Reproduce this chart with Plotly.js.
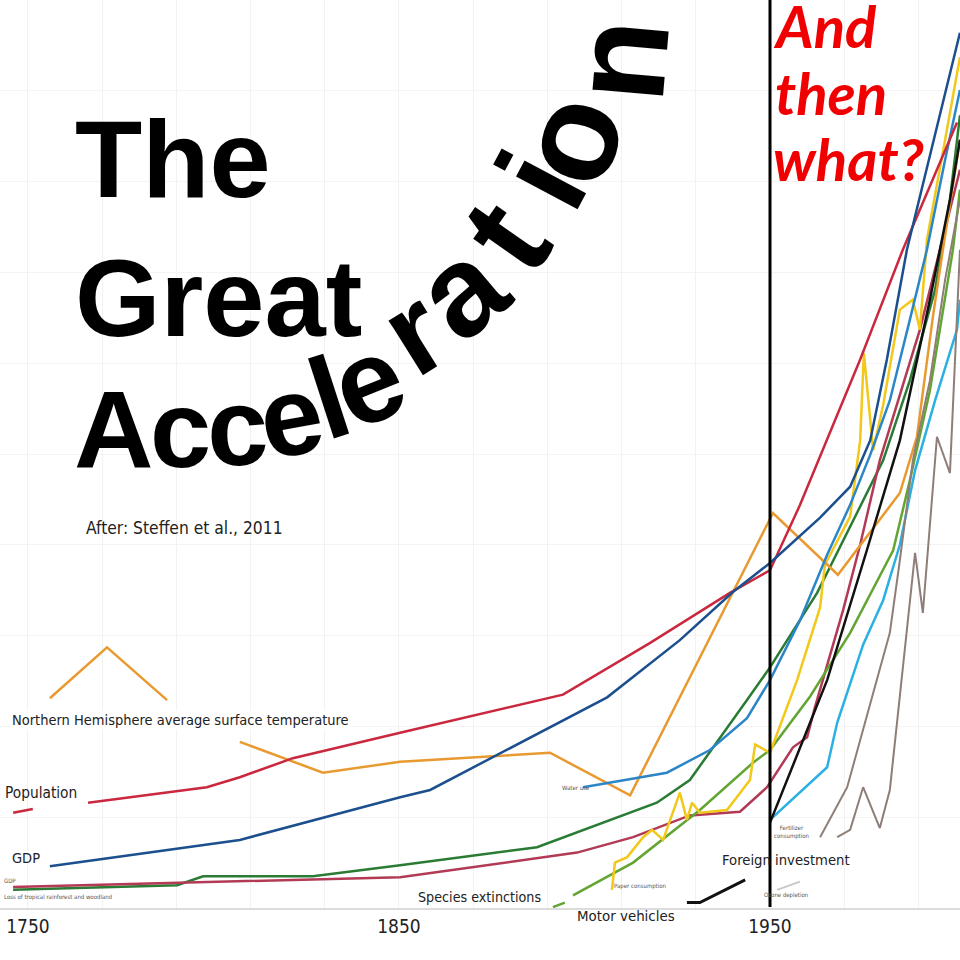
<!DOCTYPE html>
<html>
<head>
<meta charset="utf-8">
<script src="https://cdn.plot.ly/plotly-3.0.1.min.js"></script>
<style>html,body{margin:0;padding:0;background:#fff;}#chart{width:960px;height:960px;}</style>
</head>
<body>
<div id="chart"></div>
<script>
// ---------------- data (years on x, relative index on y) ----------------
const tickYears = [1750, 1850, 1950];
const tickLabels = ["1750", "1850", "1950"];

const populationYears = [1746.0, 1751.3, null, 1766.2, 1798.2, 1807.1, 1821.4, 1850.3, 1894.2, 1917.7, 1939.2, 1950.0, 1958.1, 1974.3, 1985.8, 2000.4];
const populationValues = [10.5, 10.9, null, 11.6, 13.3, 14.4, 16.5, 19.3, 23.5, 29.2, 34.7, 37.2, 44.4, 60.4, 72.5, 86.5];

const gdpYears = [1755.9, 1807.1, 1850.3, 1858.4, 1906.1, 1925.7, 1940.0, 1950.0, 1963.5, 1971.6, 1977.0, 1981.5, 1986.9, 2001.2];
const gdpValues = [4.6, 7.5, 12.2, 13.0, 23.2, 29.5, 34.8, 38.0, 43.0, 46.4, 51.5, 60.4, 72.5, 96.4];

const temperatureYears = [1755.9, 1771.3, 1787.5, null, 1807.1, 1829.5, 1850.3, 1890.7, 1912.3, 1950.8, 1968.3, 1985.0, 1989.6, 1993.9, 1996.6, 2001.2];
const temperatureValues = [23.1, 28.7, 22.9, null, 18.3, 14.9, 16.1, 17.1, 12.4, 43.5, 36.7, 45.7, 51.9, 65.1, 72.5, 84.6];

const waterUseYears = [1899.6, 1922.2, 1933.8, 1943.8, 1950.0, 1958.1, 1965.4, 1971.6, 1977.0, 1982.3, 1987.7, 1992.3, 1997.2, 2001.2];
const waterUseValues = [13.3, 14.9, 17.4, 20.9, 25.1, 31.7, 38.9, 44.4, 49.9, 55.9, 64.8, 72.5, 82.4, 90.1];

const forestLossYears = [1746.0, 1790.2, 1797.2, 1826.8, 1850.3, 1887.2, 1919.5, 1928.4, 1943.8, 1950.0, 1962.7, 1971.6, 1980.5, 1987.7, 1994.5, 1998.5, 2001.2];
const forestLossValues = [2.0, 2.5, 3.5, 3.5, 4.7, 6.7, 11.6, 14.1, 22.9, 26.5, 34.7, 42.0, 49.3, 58.1, 68.1, 78.0, 87.3];

const lowGdpYears = [1746.0, 1796.4, 1850.3, 1898.0, 1913.1, 1928.4, 1941.9, 1949.2, 1956.2, 1960.0, 1962.1, 1969.7, 1974.3, 1979.6, 1985.0, 1990.4, 1995.8, 2001.2];
const lowGdpValues = [2.3, 2.8, 3.4, 6.1, 7.8, 10.2, 10.6, 13.3, 17.7, 18.8, 22.1, 32.8, 40.0, 49.3, 56.5, 63.7, 72.5, 81.3];

const paperYears = [1907.4, 1908.2, 1911.5, 1915.8, 1918.2, 1921.2, 1925.7, 1927.6, 1929.0, 1931.1, 1938.4, 1944.6, 1946.0, 1950.0, 1957.3, 1963.5, 1964.8, 1971.6, 1974.3, 1975.3, 1977.8, 1980.5, 1985.0, 1988.5, 1990.4, 1992.3, 1997.2, 2001.2];
const paperValues = [2.0, 5.0, 5.6, 7.8, 8.6, 7.5, 12.7, 9.7, 11.6, 10.5, 10.8, 14.1, 18.0, 17.1, 25.1, 33.1, 37.8, 43.1, 51.5, 61.1, 50.4, 55.4, 65.9, 67.0, 63.7, 73.6, 84.6, 93.7];

const speciesYears = [1891.5, 1894.7, null, 1896.9, 1913.1, 1931.1, 1945.4, 1950.0, 1960.8, 1971.6, 1983.2, 1987.7, 1993.1, 1999.3, 2001.2];
const speciesValues = [0.1, 0.6, null, 1.4, 5.0, 10.8, 16.0, 17.4, 23.3, 30.3, 39.4, 47.1, 57.0, 72.5, 79.1];

const foreignYears = [1950.0, 1965.4, 1976.1, 1985.0, 1993.1, 1998.5, 2001.2];
const foreignValues = [9.4, 25.1, 39.4, 51.5, 67.0, 78.0, 84.6];

const motorYears = [1927.6, 1931.1, 1943.3];
const motorValues = [0.6, 0.6, 3.1];

const fertilizerYears = [1950.0, 1965.4, 1968.1, 1975.1, 1980.5, 1985.0, 1989.1, 1994.5, 2000.4, 2001.2];
const fertilizerValues = [9.7, 15.5, 20.4, 29.0, 33.9, 40.0, 48.2, 55.9, 63.7, 67.0];

const tourismYears = [1963.5, 1970.8, 1982.3, 1985.0, 1988.5, 1993.1, 1997.2, 2001.2];
const tourismValues = [7.8, 13.3, 30.3, 38.3, 49.3, 58.1, 69.2, 78.0];

const restaurantsYears = [1968.1, 1971.6, 1975.1, 1979.6, 1982.3, 1989.1, 1991.2, 1995.0, 1998.5, 2001.2];
const restaurantsValues = [7.8, 8.6, 13.3, 8.8, 13.0, 39.1, 32.5, 51.9, 47.9, 72.5];

const ozoneYears = [1951.9, 1958.1];
const ozoneValues = [2.0, 2.9];

const markerYears = [1950, 1950];
const markerValues = [0.1, 100];

// ---------------- layout helpers ----------------
const PLOT_H = 908, PLOT_W = 960;
const px = (x) => x / PLOT_W;
const py = (y) => 1 - y / PLOT_H;

function line(x, y, color, width) {
  return {type: 'scatter', mode: 'lines', x: x, y: y, connectgaps: false,
          line: {color: color, width: width || 2.5}, hoverinfo: 'skip'};
}

const traces = [
  line(forestLossYears, forestLossValues, '#2a7b34'),
  line(lowGdpYears, lowGdpValues, '#b23a55'),
  line(speciesYears, speciesValues, '#63a532'),
  line(paperYears, paperValues, '#f2c81a'),
  line(temperatureYears, temperatureValues, '#e89a30'),
  line(waterUseYears, waterUseValues, '#2b86c8'),
  line(populationYears, populationValues, '#c9283e'),
  line(gdpYears, gdpValues, '#1b4f8e'),
  line(fertilizerYears, fertilizerValues, '#2bb0e2'),
  line(tourismYears, tourismValues, '#8f7e78', 2),
  line(restaurantsYears, restaurantsValues, '#8f7e78', 2),
  line(ozoneYears, ozoneValues, '#c8c8c8', 2),
  line(motorYears, motorValues, '#111111', 3),
  line(foreignYears, foreignValues, '#111111', 2.5),
  line(markerYears, markerValues, '#000000', 3)
];

const NARROW = "'DejaVu Sans Condensed', 'Liberation Sans Narrow', sans-serif";
const annotations = [];
function label(text, x, y, size, opts) {
  opts = opts || {};
  annotations.push(Object.assign({
    text: text, x: px(x), y: py(y), xref: 'paper', yref: 'paper',
    xanchor: 'left', yanchor: 'middle', showarrow: false,
    font: {family: NARROW, size: size, color: '#222'}
  }, opts));
}

// big title
const TITLE_FAMILY = 'Liberation Sans, Arial, sans-serif';
const TITLE_FONT = {family: TITLE_FAMILY, size: 110, color: '#000', weight: 'bold'};
label('The', 73, 159, 110, {font: TITLE_FONT});
label('Great', 73, 297, 110, {font: TITLE_FONT});
// letter, centre x, centre y, tilt (deg), size
const arcLetters = [
  ['A', 113, 428, 0, 110], ['c', 180, 428, 0, 110], ['c', 237, 427, 2, 110], ['e', 291, 417, 10, 112],
  ['l', 329, 398, 18, 116], ['e', 368, 381, 22, 118], ['r', 413, 332, 32, 122], ['a', 460, 289, 40, 128],
  ['t', 505, 235, 55, 134], ['i', 541, 180, 62, 132], ['o', 569, 139, 72, 138], ['n', 620, 60, 85, 134]
];
arcLetters.forEach(([ch, x, y, a, s]) => {
  annotations.push({text: ch, x: px(x), y: py(y), xref: 'paper', yref: 'paper',
    xanchor: 'center', yanchor: 'middle', showarrow: false, textangle: -a,
    font: {family: TITLE_FAMILY, size: s, color: '#000', weight: 'bold'}});
});

// red question
const RED_FONT = {family: 'Lato, Open Sans, sans-serif', size: 58, color: '#f00000', weight: 'bold', style: 'italic'};
label('And', 771, 25, 58, {font: RED_FONT});
label('then', 773, 92, 58, {font: RED_FONT});
label('what?', 771, 159, 58, {font: RED_FONT});

// captions
label('After: Steffen et al., 2011', 84, 528, 17.3);
label('Northern Hemisphere average surface temperature', 10, 720, 14.5, {bgcolor: '#fff'});
label('Population', 3, 793, 15.3);
label('GDP', 10, 858, 14.5);
label('Species extinctions', 416, 897, 14.2);
label('Motor vehicles', 575, 916, 14.9);
label('Foreign investment', 720, 859, 14.7);

// tiny labels
const TINY = {family: NARROW, size: 6, color: '#555'};
label('Water use', 560, 787, 6, {font: TINY});
label('Paper consumption', 612, 886, 6, {font: TINY});
label('Fertilizer<br>consumption', 772, 832, 6, {font: TINY});
label('Ozone depletion', 762, 895, 6, {font: TINY});
label('GDP', 2, 880, 6, {font: TINY});
label('Loss of tropical rainforest and woodland', 2, 897, 6, {font: TINY});

const layout = {
  width: 960, height: 960,
  margin: {l: 0, r: 0, t: 0, b: 52, pad: 0},
  paper_bgcolor: '#ffffff', plot_bgcolor: '#ffffff',
  showlegend: false,
  xaxis: {
    range: [1742.46, 2001.21], tickmode: 'array', tickvals: tickYears, ticktext: tickLabels,
    showgrid: false, zeroline: false, showline: true, linecolor: '#dcdcdc', linewidth: 2,
    ticks: '', tickfont: {family: NARROW, size: 19, color: '#222'},
    minor: {tick0: 1750, dtick: 20, showgrid: true, gridcolor: '#f2f2f2', gridwidth: 1},
    fixedrange: true
  },
  yaxis: {
    range: [0, 100], showticklabels: false, ticks: '', zeroline: false,
    showgrid: true, dtick: 10, gridcolor: '#f4f4f4', gridwidth: 1, fixedrange: true
  },
  annotations: annotations
};

Plotly.newPlot('chart', traces, layout, {staticPlot: true, displayModeBar: false});
</script>
</body>
</html>
